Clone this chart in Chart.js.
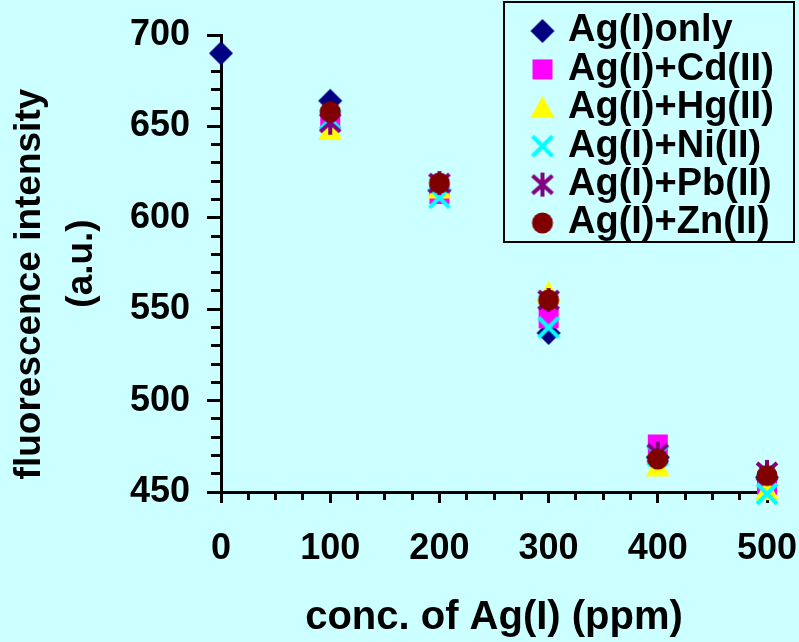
<!DOCTYPE html>
<html>
<head>
<meta charset="utf-8">
<title>Fluorescence intensity vs Ag(I)</title>
<script src="https://cdn.jsdelivr.net/npm/chart.js@4.4.0/dist/chart.umd.min.js"></script>
<style>
  html, body { margin: 0; padding: 0; background: #ccffff; }
  #wrap { width: 799px; height: 642px; }
</style>
</head>
<body>
<div id="wrap"><canvas id="chart" width="799" height="642"></canvas></div>
<script>
// values
const conc = [0, 100, 200, 300, 400, 500];
const agOnly = [690, 664, 615, 537, 469, 458];
const agCd = [null, 654, 613, 545, 476, 454];
const agHg = [null, 648, 616, 559, 464, 451];
const agNi = [null, 654, 611, 540, 470, 449];
const agPb = [null, 652, 619, 555, 471, 461];
const agZn = [null, 658, 619, 555, 468, 459];
const seriesNames = ['Ag(I)only', 'Ag(I)+Cd(II)', 'Ag(I)+Hg(II)', 'Ag(I)+Ni(II)', 'Ag(I)+Pb(II)', 'Ag(I)+Zn(II)'];
const xTickLabels = [0, 100, 200, 300, 400, 500];
const yTickLabels = [450, 500, 550, 600, 650, 700];

const FONT = "'Liberation Sans', Arial, sans-serif";

// Excel-like marker glyphs, drawn once into small canvases
function marker(shape, color) {
    const size = 28, m = 14;
    const c = document.createElement('canvas');
    c.width = size; c.height = size;
    const g = c.getContext('2d');
    g.fillStyle = color;
    g.strokeStyle = color;
    g.lineWidth = 4;
    g.beginPath();
    if (shape === 'diamond') {
        g.moveTo(m, m - 12); g.lineTo(m + 12, m); g.lineTo(m, m + 12); g.lineTo(m - 12, m);
        g.closePath(); g.fill();
    } else if (shape === 'square') {
        g.fillRect(m - 10, m - 10, 20, 20);
    } else if (shape === 'triangle') {
        g.moveTo(m, m - 12); g.lineTo(m + 12, m + 10); g.lineTo(m - 12, m + 10);
        g.closePath(); g.fill();
    } else if (shape === 'x') {
        g.moveTo(m - 10, m - 10); g.lineTo(m + 10, m + 10);
        g.moveTo(m + 10, m - 10); g.lineTo(m - 10, m + 10);
        g.stroke();
    } else if (shape === 'star') {
        g.moveTo(m - 10, m - 9); g.lineTo(m + 10, m + 9);
        g.moveTo(m + 10, m - 9); g.lineTo(m - 10, m + 9);
        g.moveTo(m, m - 12); g.lineTo(m, m + 12);
        g.stroke();
    } else {
        g.arc(m, m, 10.5, 0, Math.PI * 2);
        g.fill();
    }
    return c;
}

function points(values) {
    return conc.map((x, i) => ({ x: x, y: values[i] })).filter(p => p.y !== null);
}

const series = [agOnly, agCd, agHg, agNi, agPb, agZn];
const shapes = ['diamond', 'square', 'triangle', 'x', 'star', 'circle'];
const colors = ['#000080', '#ff00ff', '#ffff00', '#00ffff', '#800080', '#800000'];

// later series are painted on top, as in the original
const datasets = series.map((vals, i) => ({
    label: seriesNames[i],
    data: points(vals),
    order: series.length - 1 - i,
    pointStyle: marker(shapes[i], colors[i]),
    backgroundColor: colors[i],
    borderColor: colors[i],
    clip: false
}));

const pageBackground = {
    id: 'pageBackground',
    beforeDraw(chart) {
        const ctx = chart.ctx;
        ctx.save();
        ctx.fillStyle = '#ccffff';
        ctx.fillRect(0, 0, chart.width, chart.height);
        ctx.restore();
    }
};

// put the legend in the top-right corner and draw its frame
const legendBox = {
    id: 'legendBox',
    afterLayout(chart) {
        const lg = chart.legend;
        const pad = lg.options.labels.padding;
        lg.left = 536 - pad;
        lg.top = 12 - pad;
        lg.right = lg.left + lg.width;
        lg.bottom = lg.top + lg.height;
        // markers stick out past the box's left edge, so skip the clip
        lg.draw = function () { if (this.options.display) this._draw(); };
    },
    afterDraw(chart) {
        const ctx = chart.ctx;
        ctx.save();
        ctx.strokeStyle = '#000';
        ctx.lineWidth = 2;
        ctx.strokeRect(504, 2, 290, 240);
        ctx.restore();
    }
};

const tickFont = { family: FONT, size: 36, weight: 'bold', lineHeight: 1.2 };
const noSidePadding = (s) => { s.paddingLeft = 0; s.paddingRight = 0; s.paddingTop = 0; s.paddingBottom = 0; };

new Chart(document.getElementById('chart'), {
    type: 'scatter',
    data: { datasets: datasets },
    options: {
        responsive: false,
        animation: false,
        layout: { padding: { left: 0, right: 32, top: 35, bottom: 0 } },
        plugins: {
            tooltip: { enabled: false },
            legend: {
                position: 'chartArea',
                align: 'start',
                labels: {
                    usePointStyle: true,
                    boxWidth: 13,
                    padding: 0.4,
                    color: '#000',
                    font: { family: FONT, size: 38, weight: 'bold' },
                    sort: (a, b) => a.datasetIndex - b.datasetIndex
                }
            }
        },
        scales: {
            x: {
                type: 'linear',
                position: 'bottom',
                weight: 1,
                min: 0,
                max: 500,
                afterBuildTicks: (s) => { s.ticks = xTickLabels.map(v => ({ value: v })); },
                afterFit: (s) => { s.height = 150; noSidePadding(s); },
                ticks: { color: '#000', font: tickFont, padding: 24, maxRotation: 0 },
                grid: { drawOnChartArea: false, tickLength: 11, color: '#000', lineWidth: 3 },
                border: { display: true, color: '#000', width: 3 },
                title: {
                    display: true,
                    text: 'conc. of Ag(I) (ppm)',
                    color: '#000',
                    font: { family: FONT, size: 40, weight: 'bold', lineHeight: 1.2 },
                    padding: 0
                }
            },
            y: {
                type: 'linear',
                position: 'left',
                weight: 1,
                min: 450,
                max: 700,
                afterBuildTicks: (s) => { s.ticks = yTickLabels.map(v => ({ value: v })); },
                afterFit: (s) => { s.width = 221; noSidePadding(s); },
                ticks: { color: '#000', font: tickFont, padding: 17 },
                grid: { drawOnChartArea: false, tickLength: 14, color: '#000', lineWidth: 3 },
                border: { display: true, color: '#000', width: 3 },
                title: {
                    display: true,
                    // trailing spaces nudge the first line down, as in the original
                    text: ['fluorescence intensity    ', '(a.u.)'],
                    color: '#000',
                    font: { family: FONT, size: 37, weight: 'bold', lineHeight: 1.4 },
                    padding: { top: 4, bottom: 0 }
                }
            },
            // minor tick marks only
            xMinor: {
                type: 'linear',
                position: 'bottom',
                weight: 0,
                min: 0,
                max: 500,
                ticks: { display: false, stepSize: 25 },
                afterFit: (s) => { s.height = 0; noSidePadding(s); },
                grid: { drawOnChartArea: false, tickLength: 8, color: '#000', lineWidth: 3 },
                border: { display: false }
            },
            yMinor: {
                type: 'linear',
                position: 'left',
                weight: 0,
                min: 450,
                max: 700,
                ticks: { display: false, stepSize: 10 },
                afterFit: (s) => { s.width = 0; noSidePadding(s); },
                grid: { drawOnChartArea: false, tickLength: 10, color: '#000', lineWidth: 3 },
                border: { display: false }
            }
        }
    },
    plugins: [pageBackground, legendBox]
});
</script>
</body>
</html>
